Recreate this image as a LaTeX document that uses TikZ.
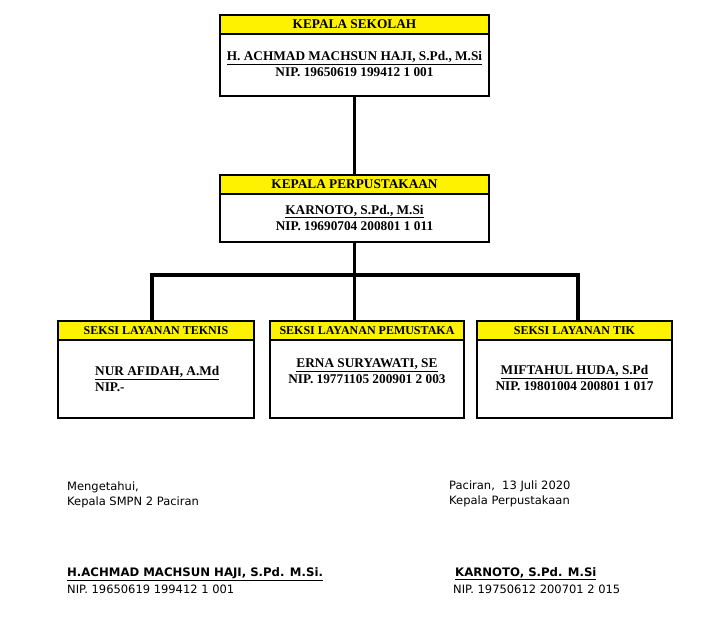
\documentclass[tikz,border=0pt]{standalone}
\usepackage{fontspec}
\setmainfont{Liberation Serif}
\newfontfamily\footfont{DejaVu Sans}
\begin{document}
\begin{tikzpicture}[x=1pt,y=-1pt,
  box/.style={draw,line width=2.6pt,fill=white,inner sep=0pt},
  hdr/.style={draw,line width=2.6pt,fill=yellow,inner sep=0pt,anchor=north},
  bigtxt/.style={inner sep=0pt,font=\bfseries\fontsize{13.3}{15}\selectfont},
  smalltxt/.style={inner sep=0pt,font=\bfseries\fontsize{12}{14}\selectfont},
  foot/.style={inner sep=0pt,anchor=west,font=\footfont\fontsize{11.5}{14}\selectfont},
  footb/.style={inner sep=0pt,anchor=west,font=\footfont\bfseries\fontsize{11.7}{14}\selectfont},
  conn/.style={line width=3.5pt}]
\useasboundingbox[fill=white] (0,0) rectangle (712,623);
% connectors
\coordinate (j) at (354.5,275);
\coordinate (jl) at (152,275);
\coordinate (jr) at (578,275);
% boxes
\node[box,minimum width=269pt,minimum height=81pt] (ks) at (354.5,55.5) {};
\node[box,minimum width=269pt,minimum height=67pt] (kp) at (354.5,208.5) {};
\node[box,minimum width=196pt,minimum height=97pt] (tek) at (156,369.5) {};
\node[box,minimum width=194pt,minimum height=97pt] (pus) at (367,369.5) {};
\node[box,minimum width=195pt,minimum height=97pt] (tik) at (574.5,369.5) {};
\draw[conn] (ks.south) -- (kp.north);
\draw[conn] (kp.south) -- (j);
\draw[conn] (jl |- tek.north) -- (jl) -- (jr) -- (jr |- tik.north);
\draw[conn] (j) -- (j |- pus.north);
% headers
\node[hdr,minimum width=269pt,minimum height=19pt,bigtxt] (ksh) at (ks.north) {KEPALA SEKOLAH};
\node[hdr,minimum width=269pt,minimum height=19pt,bigtxt] (kph) at (kp.north) {KEPALA PERPUSTAKAAN};
\node[hdr,minimum width=196pt,minimum height=19pt,smalltxt] (tekh) at (tek.north) {SEKSI LAYANAN TEKNIS};
\node[hdr,minimum width=194pt,minimum height=19pt,smalltxt] (push) at (pus.north) {SEKSI LAYANAN PEMUSTAKA};
\node[hdr,minimum width=195pt,minimum height=19pt,smalltxt] (tikh) at (tik.north) {SEKSI LAYANAN TIK};
% names
\node[bigtxt] (ksn) at (354.5,58) {\underline{H. ACHMAD MACHSUN HAJI, S.Pd., M.Si}};
\node[bigtxt] (ksnip) at (354.5,72.5) {NIP. 19650619 199412 1 001};
\node[bigtxt] (kpn) at (354.5,211.5) {\underline{KARNOTO, S.Pd., M.Si}};
\node[bigtxt] (kpnip) at (354.5,226) {NIP. 19690704 200801 1 011};
\node[bigtxt,anchor=west] (tekn) at (95,373) {\underline{NUR AFIDAH, A.Md}};
\node[bigtxt,anchor=west] (teknip) at (95,387.5) {NIP.-};
\node[bigtxt] (pusn) at (367,365) {\underline{ERNA SURYAWATI, SE}};
\node[bigtxt] (pusnip) at (367,379.5) {NIP. 19771105 200901 2 003};
\node[bigtxt] (tikn) at (574.5,372) {\underline{MIFTAHUL HUDA, S.Pd}};
\node[bigtxt] (tiknip) at (574.5,386.5) {NIP. 19801004 200801 1 017};
% footer
\node[foot] (f1) at (67,487) {Mengetahui,};
\node[foot] (f2) at (67,502) {Kepala SMPN 2 Paciran};
\node[footb] (f3) at (67,574) {\underline{H.ACHMAD MACHSUN HAJI, S.Pd. M.Si.}};
\node[foot] (f4) at (67,589) {NIP. 19650619 199412 1 001};
\node[foot] (f5) at (449,486) {Paciran,\ \ 13 Juli 2020};
\node[foot] (f6) at (449,501) {Kepala Perpustakaan};
\node[footb] (f7) at (455,574) {\underline{KARNOTO, S.Pd. M.Si}};
\node[foot] (f8) at (453,589) {NIP. 19750612 200701 2 015};
\end{tikzpicture}
\end{document}
